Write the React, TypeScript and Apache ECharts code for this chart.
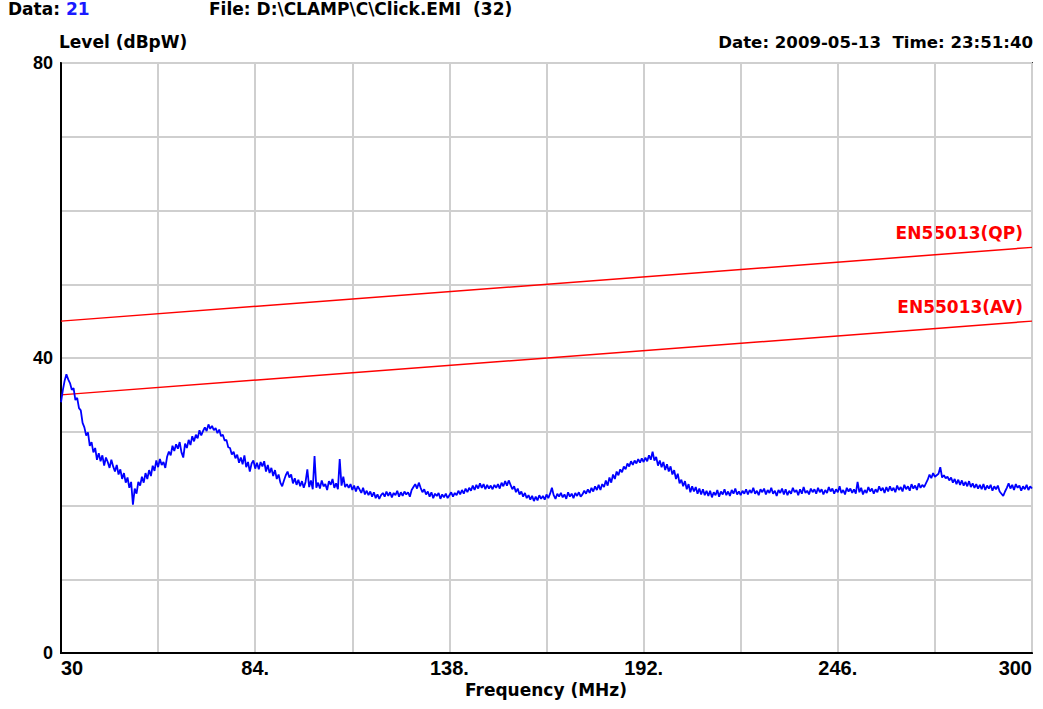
import React, { useEffect, useRef } from "react";
import * as echarts from "echarts";

// Frequency grid of the measured trace (MHz)
const freqStart = 30;
const freqStep = 0.5;
const freqMin = 30;
const freqMax = 300;

// Measured level (dBpW), one value every 0.5 MHz from 30 to 300 MHz
const traceLevels: number[] = [
  34.0, 35.6, 36.9, 37.8, 37.1, 36.6, 35.7, 35.9, 34.3, 34.6, 33.2, 32.9, 31.2, 30.6, 29.5, 29.9, 28.1, 28.6, 27.2, 27.8,
  26.2, 27.1, 26.0, 26.8, 25.4, 26.5, 25.9, 25.1, 26.2, 25.3, 24.6, 25.5, 24.2, 24.9, 23.6, 24.4, 23.1, 23.8, 22.4, 23.2,
  20.1, 22.3, 21.6, 23.2, 22.7, 23.9, 23.1, 24.4, 23.6, 24.8, 24.0, 25.4, 24.7, 26.1, 25.2, 26.3, 25.5, 25.9, 25.1, 26.6,
  27.3, 26.8, 28.1, 27.4, 28.3, 27.7, 28.6, 27.2, 26.5, 28.4, 27.8, 28.9, 28.2, 29.4, 28.7, 29.6, 29.1, 30.2, 29.5, 30.1,
  30.6, 30.1, 31.0, 30.4, 30.8, 30.2, 30.5, 29.8, 30.3, 29.4, 29.6, 28.8, 28.9, 27.9, 27.8, 26.9, 27.3, 26.4, 26.9, 25.8,
  26.5, 25.6, 26.8, 25.2, 25.9, 24.6, 25.7, 26.1, 25.0, 25.8, 24.9, 25.9, 25.3, 26.0, 24.6, 25.5, 24.4, 25.1, 24.0, 24.8,
  23.6, 24.2, 23.1, 22.6, 23.4, 24.1, 24.6, 23.8, 24.2, 23.0, 23.7, 22.8, 23.5, 22.6, 23.3, 22.4, 23.2, 24.9, 22.5, 23.4,
  22.2, 26.7, 22.4, 23.1, 22.3, 23.4, 22.6, 22.9, 22.1, 23.3, 22.8, 23.6, 22.4, 23.0, 22.2, 26.3, 22.7, 23.9, 22.5, 22.9,
  22.4, 22.9, 22.1, 22.7, 21.9, 22.6, 22.2, 21.7, 22.4, 21.5, 22.0, 21.4, 21.9, 21.2, 21.8, 21.0, 21.5, 20.9, 21.4, 21.7,
  21.2, 21.9, 21.3, 21.8, 21.1, 21.7, 21.4, 22.0, 21.2, 21.8, 21.3, 21.9, 21.5, 21.8, 21.2, 22.1, 22.5, 22.9, 22.3, 23.1,
  22.4, 21.8, 22.2, 21.5, 21.9, 21.2, 21.8, 21.0, 21.6, 21.3, 21.7, 20.9, 21.5, 21.1, 21.6, 21.0, 21.4, 21.8, 21.2, 21.7,
  21.4, 22.0, 21.5, 22.1, 21.6, 22.3, 21.8, 22.4, 22.0, 22.7, 22.1, 22.8, 22.3, 23.0, 22.4, 22.9, 22.2, 22.8, 22.3, 22.7,
  22.2, 22.8, 22.4, 22.9, 22.3, 23.1, 22.6, 23.3, 22.7, 23.4, 22.8, 22.2, 22.6, 21.8, 22.3, 21.5, 21.9, 21.2, 21.7, 21.0,
  21.4, 20.8, 21.3, 20.6, 21.2, 20.7, 21.4, 20.9, 21.3, 20.8, 21.5, 21.0, 21.6, 22.4, 21.4, 20.9, 21.6, 21.2, 21.7, 21.1,
  21.5, 20.9, 21.8, 21.2, 21.6, 21.0, 21.7, 21.3, 21.8, 21.2, 21.5, 22.0, 21.6, 22.2, 21.7, 22.4, 21.9, 22.6, 22.1, 22.8,
  22.1, 22.9, 22.5, 23.4, 22.7, 23.8, 23.1, 24.2, 23.6, 24.6, 24.1, 24.9, 24.5, 25.3, 24.9, 25.7, 25.3, 26.0, 25.5, 26.1,
  25.7, 26.3, 25.8, 26.4, 25.9, 26.5, 26.0, 26.8, 26.2, 27.3, 26.1, 26.6, 25.4, 26.1, 25.2, 25.9, 24.8, 25.6, 24.6, 25.3,
  24.2, 24.8, 23.6, 24.3, 23.0, 23.5, 22.6, 23.3, 22.2, 22.9, 21.8, 22.6, 21.9, 22.5, 21.6, 22.3, 21.5, 22.2, 21.4, 22.0,
  21.3, 22.0, 21.1, 21.8, 21.4, 22.1, 21.2, 21.9, 21.5, 22.2, 21.4, 21.9, 21.3, 22.1, 21.6, 22.3, 21.5, 21.9, 21.4, 22.0,
  21.6, 22.2, 21.5, 22.1, 21.7, 22.4, 21.6, 22.0, 21.4, 22.2, 21.8, 22.3, 21.5, 22.1, 21.7, 22.4, 21.6, 22.0, 21.3, 22.1,
  21.7, 22.3, 21.5, 22.2, 21.4, 22.0, 21.6, 22.4, 21.8, 22.1, 21.4, 22.2, 21.6, 22.5, 21.7, 22.0, 21.5, 22.3, 21.8, 22.2,
  21.6, 22.4, 21.8, 22.2, 21.5, 22.1, 21.7, 22.5, 21.9, 22.3, 21.6, 22.2, 21.8, 22.6, 21.7, 22.1, 21.5, 22.4, 21.9, 22.3,
  21.7, 22.2, 21.6, 23.2, 21.8, 22.4, 21.5, 22.1, 21.7, 22.5, 21.9, 22.3, 21.6, 22.2, 21.8, 22.6, 22.0, 22.4, 21.7, 22.5,
  21.9, 22.6, 22.0, 22.4, 21.8, 22.7, 22.1, 22.5, 21.9, 22.8, 22.2, 22.6, 22.0, 22.9, 22.3, 22.7, 22.1, 23.0, 22.4, 22.8,
  22.5, 23.0, 23.5, 24.2, 23.7, 24.4, 23.9, 24.1, 24.3, 25.2, 23.8, 24.1, 23.7, 23.9, 23.4, 23.8, 23.1, 23.6, 22.9, 23.5,
  22.8, 23.4, 22.7, 23.2, 22.6, 23.3, 22.5, 23.0, 22.4, 22.9, 22.3, 22.8, 22.2, 22.9, 22.1, 22.7, 22.3, 22.8, 22.0, 22.6,
  22.2, 22.7, 21.9, 21.6, 21.3, 21.9, 22.4, 23.0, 22.3, 22.8, 22.1, 22.9, 22.4, 22.7, 22.0, 22.6, 22.2, 22.8, 22.1, 22.6,
  22.3,
];

// Limit lines (dBpW) at 30 MHz and 300 MHz
const limitFreqs = [30, 300];
const qpLimit = [45, 55];
const avLimit = [35, 45];

// Axis ticks
const xGridStep = 27;
const xLabelValues = [30, 84, 138, 192, 246, 300];
const xLabelTexts = ["30", "84.", "138.", "192.", "246.", "300"];
const yMin = 0;
const yMax = 80;
const yGridStep = 10;
const yLabelValues = [0, 40, 80];

const TITLE_FONT = "'DejaVu Sans', 'Liberation Sans', sans-serif";
const TICK_FONT = "'Liberation Sans Narrow', 'Liberation Sans', Arial, sans-serif";

export default function App() {
  const ref = useRef<HTMLDivElement>(null);

  useEffect(() => {
    document.body.style.margin = "0";
    if (!ref.current) return;
    const chart = echarts.init(ref.current, null, { renderer: "svg" });

    const traceData = traceLevels.map((v, i) => [freqStart + i * freqStep - freqMin, v]);
    const qpData = limitFreqs.map((f, i) => [f - freqMin, qpLimit[i]]);
    const avData = limitFreqs.map((f, i) => [f - freqMin, avLimit[i]]);

    const titleStyle = (extra: any) => ({
      fontFamily: TITLE_FONT,
      fontWeight: "bold",
      fontSize: 17,
      fill: "#000",
      ...extra,
    });

    chart.setOption({
      animation: false,
      backgroundColor: "#fff",
      grid: {
        left: 61,
        right: 11,
        top: 63,
        bottom: 56,
        show: true,
        borderColor: "#333",
        borderWidth: 2,
        outerBoundsMode: "none",
        containLabel: false,
      },
      xAxis: {
        type: "value",
        min: 0,
        max: freqMax - freqMin,
        interval: xGridStep,
        axisLine: { show: true, lineStyle: { color: "#000", width: 2 } },
        axisTick: { show: false },
        splitLine: { show: true, lineStyle: { color: "#cfcfcf", width: 2 } },
        axisLabel: {
          show: true,
          margin: 5,
          color: "#000",
          fontFamily: TICK_FONT,
          fontWeight: "bold",
          fontSize: 20,
          alignMinLabel: "left",
          alignMaxLabel: "right",
          formatter: (v: number) => {
            const idx = xLabelValues.indexOf(Math.round(v + freqMin));
            return idx >= 0 ? xLabelTexts[idx] : "";
          },
        },
      },
      yAxis: {
        type: "value",
        min: yMin,
        max: yMax,
        interval: yGridStep,
        axisLine: { show: true, lineStyle: { color: "#000", width: 2 } },
        axisTick: { show: false },
        splitLine: { show: true, lineStyle: { color: "#cfcfcf", width: 2 } },
        axisLabel: {
          show: true,
          margin: 8,
          color: "#000",
          fontFamily: "'Liberation Sans', Arial, sans-serif",
          fontWeight: "bold",
          fontSize: 18,
          formatter: (v: number) => (yLabelValues.indexOf(v) >= 0 ? String(v) : ""),
        },
      },
      series: [
        {
          name: "EN55013(QP)",
          type: "line",
          data: qpData,
          symbol: "none",
          lineStyle: { color: "#ff0000", width: 1.5 },
          z: 3,
        },
        {
          name: "EN55013(AV)",
          type: "line",
          data: avData,
          symbol: "none",
          lineStyle: { color: "#ff0000", width: 1.5 },
          z: 3,
        },
        {
          name: "Level",
          type: "line",
          data: traceData,
          symbol: "none",
          lineStyle: { color: "#0000ff", width: 1.8 },
          z: 4,
        },
      ],
      graphic: [
        {
          type: "text",
          x: 8,
          y: 0,
          style: titleStyle({
            text: "{a|Data: }{b|21}",
            verticalAlign: "top",
            rich: {
              a: { fontFamily: TITLE_FONT, fontWeight: "bold", fontSize: 17, fill: "#000", color: "#000" },
              b: { fontFamily: TITLE_FONT, fontWeight: "bold", fontSize: 17, fill: "#1a1aff", color: "#1a1aff" },
            },
          }),
        },
        {
          type: "text",
          x: 209,
          y: 0,
          style: titleStyle({ text: "File: D:\\CLAMP\\C\\Click.EMI  (32)", verticalAlign: "top" }),
        },
        {
          type: "text",
          x: 59,
          y: 42,
          style: titleStyle({ text: "Level (dBpW)", verticalAlign: "middle" }),
        },
        {
          type: "text",
          x: 1033,
          y: 42,
          style: titleStyle({ text: "Date: 2009-05-13  Time: 23:51:40", align: "right", verticalAlign: "middle", fontSize: 16.6 }),
        },
        {
          type: "text",
          x: 546,
          y: 690,
          style: titleStyle({ text: "Frequency (MHz)", align: "center", verticalAlign: "middle" }),
        },
        {
          type: "text",
          x: 1023,
          y: 233,
          style: titleStyle({ text: "EN55013(QP)", align: "right", verticalAlign: "middle", fill: "#ff0000" }),
        },
        {
          type: "text",
          x: 1023,
          y: 307,
          style: titleStyle({ text: "EN55013(AV)", align: "right", verticalAlign: "middle", fill: "#ff0000" }),
        },
      ],
    });

    return () => chart.dispose();
  }, []);

  return <div ref={ref} style={{ width: 1043, height: 709 }} />;
}
